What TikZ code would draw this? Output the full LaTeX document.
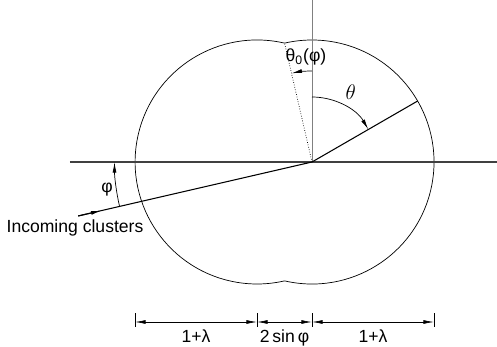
\documentclass[tikz,border=0pt]{standalone}
\usepackage{fontspec}
\setsansfont{Liberation Sans}
\usetikzlibrary{calc,arrows.meta}

\begin{document}
\begin{tikzpicture}[font=\sffamily\fontsize{10}{12}\selectfont, >={Latex[length=6pt,width=2.2pt]}]
\useasboundingbox (-6.24,-3.7) rectangle (3.7,3.24);
\coordinate (O) at (0,0); \coordinate (L) at (-1.1,0); \coordinate (T) at (103:2.44); \coordinate (P) at (30:2.44);
\draw[line width=0.4pt] (T) arc[start angle=77, end angle=283, radius=2.44] arc[start angle=-103, end angle=103, radius=2.44] -- cycle;
\coordinate (H1) at (-4.84,0); \coordinate (H2) at (3.7,0); \coordinate (V) at (0,3.24);
\draw[line width=0.9pt, black!75] (H1) -- (H2); \draw[line width=0.4pt, gray] (O) -- (V);
\draw[line width=0.6pt] (O) -- (P); \draw[densely dotted, line width=0.4pt] (O) -- (T);
\draw[->] (90:1.3) arc[start angle=90, end angle=30, radius=1.3]; \node (th) at (61:1.6) {\large$\theta$};
\draw[->] (90:1.82) arc[start angle=90, end angle=103, radius=1.82]; \node (th0) at (-0.12,2.1) {θ\textsubscript{0}(φ)};
\coordinate (I) at (193:4.8); \draw[line width=0.6pt] (I) -- (O); \draw[->, line width=0.6pt] (I) -- ($(I)!0.1!(O)$);
\draw[->] (193:3.95) arc[start angle=193, end angle=180, radius=3.95]; \node (phi) at (-4.1,-0.56) {φ};
\node (inc) at (-4.74,-1.32) {Incoming clusters};
\foreach \x/\n in {-3.54/0,-1.1/1,0/2,2.44/3} { \coordinate (D\n) at (\x,-3.2); \draw ($(D\n)+(0,0.18)$) -- ($(D\n)+(0,-0.1)$); }
\draw[<->] (D0) -- (D1) node[midway, below=1pt] (d1) {1+λ};
\draw[<->] (D1) -- (D2) node[midway, below=1pt] (d2) {2\,sin\,φ};
\draw[<->] (D2) -- (D3) node[midway, below=1pt] (d3) {1+λ};
\end{tikzpicture}
\end{document}
